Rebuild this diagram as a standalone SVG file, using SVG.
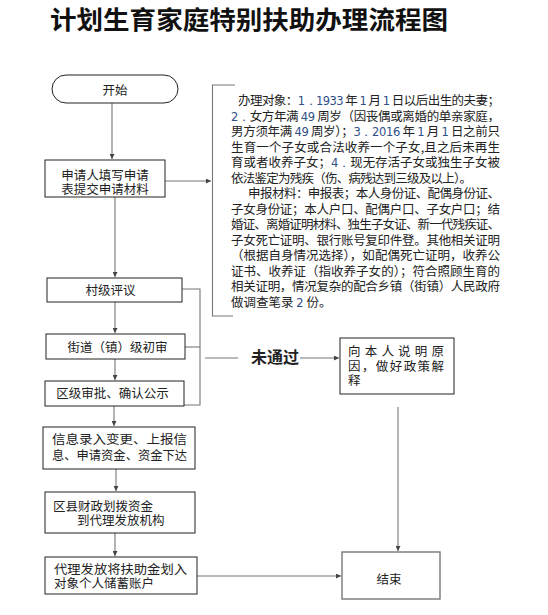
<svg xmlns="http://www.w3.org/2000/svg" width="548" height="615" viewBox="0 0 548 615">
<defs>
<style>
.box{fill:#fff;stroke:#222;stroke-width:1}
.con{fill:none;stroke:#777;stroke-width:1.1}
.t{font-family:"Noto Sans CJK SC","Liberation Sans",sans-serif;font-size:12.5px;fill:#222}
.p{font-family:"Noto Sans CJK SC","Liberation Sans",sans-serif;font-size:12.5px;fill:#222}
.n{fill:#2f4f86;font-family:"DejaVu Sans",sans-serif;font-size:11.5px}
.title{font-family:"Noto Sans CJK SC",sans-serif;font-size:25px;font-weight:bold;fill:#111}
.lbl{font-family:"Noto Sans CJK SC",sans-serif;font-size:16px;font-weight:bold;fill:#222}
</style>
<marker id="ah" viewBox="0 0 6 6" refX="6" refY="3" markerWidth="5" markerHeight="5" orient="auto" markerUnits="userSpaceOnUse">
<path d="M0,0 L6,3 L0,6 Z" fill="#444"/>
</marker>
</defs>
<rect width="548" height="615" fill="#fff"/>
<text class="title" x="50" y="29" textLength="398" lengthAdjust="spacingAndGlyphs">计划生育家庭特别扶助办理流程图</text>

<g id="connectors">
<line class="con" x1="112" y1="103" x2="112" y2="159" marker-end="url(#ah)"/>
<line class="con" x1="165" y1="181" x2="211" y2="181" marker-end="url(#ah)"/>
<line class="con" x1="115" y1="197" x2="115" y2="277" marker-end="url(#ah)"/>
<line class="con" x1="115" y1="302" x2="115" y2="333" marker-end="url(#ah)"/>
<line class="con" x1="115" y1="359" x2="115" y2="380" marker-end="url(#ah)"/>
<line class="con" x1="114" y1="406" x2="114" y2="426" marker-end="url(#ah)"/>
<line class="con" x1="116" y1="469" x2="116" y2="491" marker-end="url(#ah)"/>
<line class="con" x1="115" y1="533" x2="115" y2="556" marker-end="url(#ah)"/>
<polyline class="con" points="182,289 200,289 200,405 184,405"/>
<line class="con" x1="185" y1="347" x2="200" y2="347"/>
<line class="con" x1="205" y1="358" x2="238" y2="358"/>
<line class="con" x1="300" y1="358" x2="339" y2="358" marker-end="url(#ah)"/>
<line class="con" x1="398" y1="407" x2="398" y2="551" marker-end="url(#ah)"/>
<line class="con" x1="197" y1="576" x2="341" y2="576" marker-end="url(#ah)"/>
<polyline class="con" points="235,85 212.5,85 212.5,316 233,316"/>
</g>
<text class="lbl" x="275" y="363" text-anchor="middle">未通过</text>

<g id="start">
<rect class="box" x="52" y="75" width="126" height="28" rx="14"/>
<text class="t" x="115" y="94.5" text-anchor="middle">开始</text>
</g>
<g id="apply">
<rect class="box" x="45" y="160" width="120" height="37"/>
<text class="t" x="105" y="179.5" text-anchor="middle">申请人填写申请</text>
<text class="t" x="105" y="194" text-anchor="middle">表提交申请材料</text>
</g>
<g id="village">
<rect class="box" x="47" y="278" width="135" height="24"/>
<text class="t" x="110.5" y="295" text-anchor="middle">村级评议</text>
</g>
<g id="street">
<rect class="box" x="46" y="334" width="139" height="25"/>
<text class="t" x="117.5" y="351.5" text-anchor="middle">街道（镇）级初审</text>
</g>
<g id="district">
<rect class="box" x="45" y="381" width="139" height="25"/>
<text class="t" x="112.5" y="398" text-anchor="middle">区级审批、确认公示</text>
</g>
<g id="info">
<rect class="box" x="43" y="427" width="152" height="42"/>
<text class="t" x="52" y="444" textLength="135" lengthAdjust="spacingAndGlyphs">信息录入变更、上报信</text>
<text class="t" x="52" y="460" textLength="135" lengthAdjust="spacingAndGlyphs">息、申请资金、资金下达</text>
</g>
<g id="finance">
<rect class="box" x="45" y="492" width="150" height="41"/>
<text class="t" x="53" y="510.5">区县财政划拨资金</text>
<text class="t" x="77" y="525">到代理发放机构</text>
</g>
<g id="agent">
<rect class="box" x="45" y="557" width="152" height="37"/>
<text class="t" x="54" y="573.5" textLength="133" lengthAdjust="spacingAndGlyphs">代理发放将扶助金划入</text>
<text class="t" x="54" y="588">对象个人储蓄账户</text>
</g>
<g id="explain">
<rect class="box" x="340" y="338" width="114" height="56"/>
<text class="t" x="348" y="355.5" textLength="96" lengthAdjust="spacing">向本人说明原</text>
<text class="t" x="348" y="370.5" textLength="96" lengthAdjust="spacing">因，做好政策解</text>
<text class="t" x="348" y="385">释</text>
</g>
<g id="end">
<rect class="box" x="342" y="552" width="98" height="47" style="stroke:#777;stroke-width:1.4"/>
<text class="t" x="389" y="584" text-anchor="middle">结束</text>
</g>
<g id="notes">
<text class="p" x="238" y="105" textLength="262" lengthAdjust="spacing">办理对象：<tspan class="n">1．1933</tspan> 年 <tspan class="n">1</tspan> 月 <tspan class="n">1</tspan> 日以后出生的夫妻；</text>
<text class="p" x="231" y="120.5" textLength="269" lengthAdjust="spacing"><tspan class="n">2．</tspan>女方年满 <tspan class="n">49</tspan> 周岁（因丧偶或离婚的单亲家庭，</text>
<text class="p" x="231" y="136" textLength="269" lengthAdjust="spacing">男方须年满 <tspan class="n">49</tspan> 周岁）；<tspan class="n">3．2016</tspan> 年 <tspan class="n">1</tspan> 月 <tspan class="n">1</tspan> 日之前只</text>
<text class="p" x="231" y="151.5" textLength="269" lengthAdjust="spacing">生育一个子女或合法收养一个子女,且之后未再生</text>
<text class="p" x="231" y="167" textLength="269" lengthAdjust="spacing">育或者收养子女；<tspan class="n">4．</tspan>现无存活子女或独生子女被</text>
<text class="p" x="231" y="182.5" textLength="241" lengthAdjust="spacing">依法鉴定为残疾（伤、病残达到三级及以上）。</text>
<text class="p" x="248" y="198" textLength="252" lengthAdjust="spacing">申报材料：申报表；本人身份证、配偶身份证、</text>
<text class="p" x="231" y="213.5" textLength="269" lengthAdjust="spacing">子女身份证；本人户口、配偶户口、子女户口；结</text>
<text class="p" x="231" y="229" textLength="269" lengthAdjust="spacing">婚证、离婚证明材料、独生子女证、新一代残疾证、</text>
<text class="p" x="231" y="244.5" textLength="269" lengthAdjust="spacing">子女死亡证明、银行账号复印件登。其他相关证明</text>
<text class="p" x="231" y="260" textLength="269" lengthAdjust="spacing">（根据自身情况选择），如配偶死亡证明，收养公</text>
<text class="p" x="231" y="275.5" textLength="269" lengthAdjust="spacing">证书、收养证（指收养子女的）；符合照顾生育的</text>
<text class="p" x="231" y="291" textLength="269" lengthAdjust="spacing">相关证明，情况复杂的配合乡镇（街镇）人民政府</text>
<text class="p" x="231" y="306.5">做调查笔录 <tspan class="n">2</tspan> 份。</text>
</g>
</svg>
